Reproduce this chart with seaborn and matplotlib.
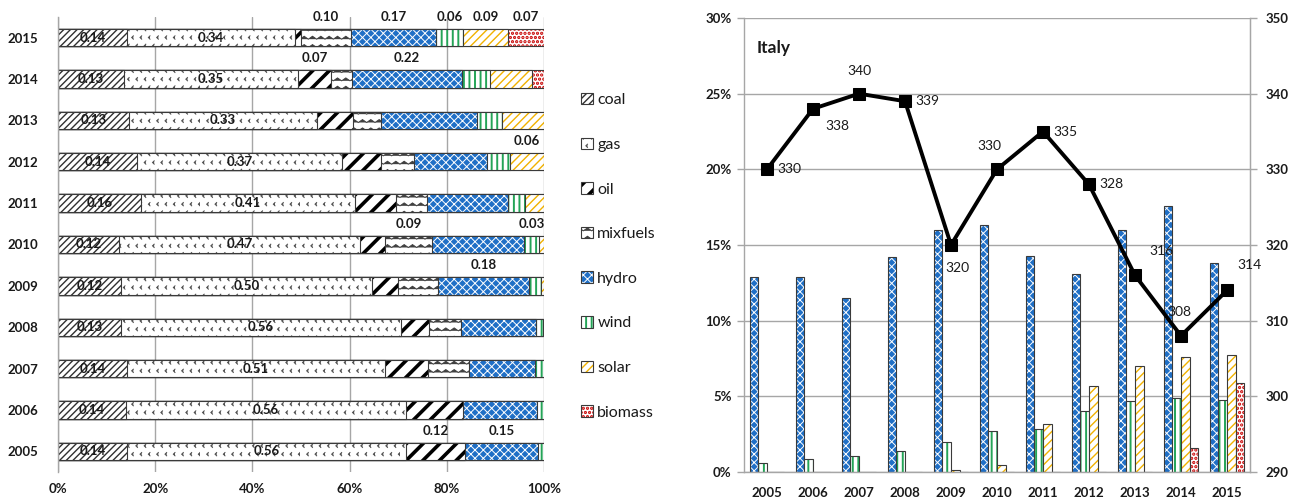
import warnings
import numpy as np
import pandas as pd
import matplotlib
matplotlib.use("Agg")
import matplotlib.pyplot as plt
import matplotlib.colors as mcolors
from matplotlib import hatch as mhatch
from matplotlib.path import Path
from matplotlib.patches import Patch
from matplotlib.ticker import FixedLocator, NullFormatter, FuncFormatter
import seaborn as sns

warnings.filterwarnings("ignore")

# ---------------- data ----------------
years = [2005, 2006, 2007, 2008, 2009, 2010, 2011, 2012, 2013, 2014, 2015]
sources = ["coal", "gas", "oil", "mixfuels", "hydro", "wind", "solar", "biomass"]

# left chart: generation mix (shown as 100% stacked bars)
coal     = [0.138, 0.137, 0.137, 0.127, 0.124, 0.120, 0.159, 0.142, 0.127, 0.131, 0.141]
gas      = [0.561, 0.561, 0.511, 0.562, 0.496, 0.471, 0.411, 0.366, 0.334, 0.348, 0.343]
oil      = [0.117, 0.115, 0.085, 0.057, 0.052, 0.049, 0.080, 0.071, 0.064, 0.066, 0.012]
mixfuels = [0.000, 0.000, 0.083, 0.063, 0.078, 0.092, 0.060, 0.058, 0.051, 0.042, 0.103]
hydro    = [0.147, 0.148, 0.131, 0.151, 0.181, 0.179, 0.155, 0.131, 0.171, 0.218, 0.173]
wind     = [0.012, 0.014, 0.017, 0.014, 0.024, 0.029, 0.032, 0.041, 0.045, 0.056, 0.056]
solar    = [0.000, 0.000, 0.000, 0.002, 0.005, 0.010, 0.037, 0.061, 0.074, 0.084, 0.092]
biomass  = [0.000, 0.000, 0.000, 0.000, 0.000, 0.000, 0.000, 0.000, 0.000, 0.024, 0.073]

# data labels shown on the left chart
inside_labels = ["coal", "gas"]
above_labels = {2015: ["mixfuels", "hydro", "wind", "solar", "biomass"],
                2014: ["oil", "hydro"], 2012: ["solar"],
                2010: ["mixfuels", "wind"], 2009: ["hydro"], 2005: ["oil", "hydro"]}

# right chart: renewable shares (%) and emission factor (right axis)
r_hydro   = [12.9, 12.9, 11.5, 14.2, 16.0, 16.3, 14.3, 13.1, 16.0, 17.55, 13.8]
r_wind    = [0.62, 0.84, 1.09, 1.36, 1.98, 2.70, 2.84, 4.04, 4.69, 4.87, 4.76]
r_solar   = [0.0, 0.0, 0.0, 0.0, 0.13, 0.44, 3.18, 5.66, 7.00, 7.58, 7.71]
r_biomass = [0.0, 0.0, 0.0, 0.0, 0.0, 0.0, 0.0, 0.0, 0.0, 1.58, 5.87]
emission  = [330, 338, 340, 339, 320, 330, 335, 328, 316, 308, 314]
# offsets (pixels) for line labels
em_offsets = [(10, 0, "left"), (12, -17, "left"), (0, 23, "center"), (10, 0, "left"),
              (6, -23, "center"), (-8, 23, "center"), (10, 0, "left"), (10, 0, "left"),
              (14, 24, "left"), (-2, 24, "center"), (10, 25, "left")]

# ---------------- custom hatches ----------------
class ZigZagHatch(mhatch.HatchPatternBase):
    def __init__(self, hatch, density):
        self.n = int(hatch.count("z") * density)
        self.k = self.n
        self.num_vertices = self.n * (2 * self.k + 1) if self.n else 0

    def set_vertices_and_codes(self, vertices, codes):
        n, k = self.n, self.k
        m = 2 * k + 1
        xs = np.linspace(0.0, 1.0, m)
        bump = (np.arange(m) % 2) * (0.35 / n)
        for r in range(n):
            a, b = r * m, (r + 1) * m
            vertices[a:b, 0] = xs
            vertices[a:b, 1] = (r + 0.3) / n + bump
            codes[a] = Path.MOVETO
            codes[a + 1:b] = Path.LINETO


class ChevronHatch(mhatch.HatchPatternBase):
    def __init__(self, hatch, density):
        self.n = int(hatch.count("v") * density)
        self.num_vertices = 3 * self.n * self.n if self.n else 0

    def set_vertices_and_codes(self, vertices, codes):
        n = self.n
        s = 0.2 / n
        i = 0
        for r in range(n):
            for c in range(n):
                x0 = ((c + 0.5 * (r % 2)) % n + 0.3) / n
                y0 = (r + 0.5) / n
                vertices[i] = (x0 + s, y0 + s)
                vertices[i + 1] = (x0, y0)
                vertices[i + 2] = (x0 + s, y0 - s)
                codes[i] = Path.MOVETO
                codes[i + 1] = Path.LINETO
                codes[i + 2] = Path.LINETO
                i += 3


mhatch._hatch_types.append(ZigZagHatch)
mhatch._hatch_types.append(ChevronHatch)

styles = {
    "coal":     dict(face="white",   hatch="/////", hcolor="#303030", hlw=1.0),
    "gas":      dict(face="white",   hatch="vv",    hcolor="#505050", hlw=0.7),
    "oil":      dict(face="white",   hatch="//",    hcolor="black",   hlw=2.6),
    "mixfuels": dict(face="white",   hatch="zz",    hcolor="#404040", hlw=0.7),
    "hydro":    dict(face="#1f6fc6", hatch="xxxx",  hcolor="white",   hlw=0.7),
    "wind":     dict(face="white",   hatch="|||",   hcolor="#24a457", hlw=1.4),
    "solar":    dict(face="white",   hatch="////",  hcolor="#f2b200", hlw=1.0),
    "biomass":  dict(face="white",   hatch="....",  hcolor="#c80000", hlw=1.6),
}
EDGE = "#3a3a3a"


def style_patch(p, name, lw=0.8):
    st = styles[name]
    p.set_facecolor(st["face"])
    p.set_edgecolor(EDGE)
    p.set_linewidth(lw)
    p.set_hatch(st["hatch"])
    if hasattr(p, "set_hatchcolor"):
        p.set_hatchcolor(st["hcolor"])
    p._hatch_color = mcolors.to_rgba(st["hcolor"])
    if hasattr(p, "set_hatch_linewidth"):
        p.set_hatch_linewidth(st["hlw"])
    else:
        p._hatch_linewidth = st["hlw"]


# ---------------- theme ----------------
sns.set_style("white")
plt.rcParams["font.family"] = ["Lato", "DejaVu Sans"]
plt.rcParams["hatch.linewidth"] = 0.9
GRID = "#a6a6a6"
TXT = "#1a1a1a"

fig = plt.figure(figsize=(13, 5), dpi=100)

# ---------------- left chart ----------------
axL = fig.add_axes([58 / 1300, 28 / 500, 486 / 1300, 455 / 500])
series = {"coal": coal, "gas": gas, "oil": oil, "mixfuels": mixfuels,
          "hydro": hydro, "wind": wind, "solar": solar, "biomass": biomass}
df = pd.DataFrame(series)
df["year"] = [str(y) for y in years]
tot = df[sources].sum(axis=1)
share = df[sources].div(tot, axis=0) * 100
cum = share.cumsum(axis=1)
left = cum - share
order = [str(y) for y in years[::-1]]
plotdf = cum.copy()
plotdf["year"] = df["year"]

for name in sources[::-1]:
    sns.barplot(data=plotdf, x=name, y="year", order=order, orient="h",
                width=0.42, color="white", saturation=1, errorbar=None, ax=axL)
    for p in axL.containers[-1]:
        style_patch(p, name)

axL.set_xlim(0, 100)
axL.set_ylim(len(order) - 0.5, -0.5)
axL.set_xlabel("")
axL.set_ylabel("")
axL.xaxis.set_major_locator(FixedLocator([0, 20, 40, 60, 80, 100]))
axL.xaxis.set_major_formatter(FuncFormatter(lambda v, _: f"{v:.0f}%"))
axL.grid(axis="x", color=GRID, linewidth=1.0)
axL.set_axisbelow(True)
for s in ["top", "right", "bottom"]:
    axL.spines[s].set_visible(False)
axL.spines["left"].set_color(GRID)
axL.spines["left"].set_linewidth(1.0)
axL.tick_params(axis="x", length=0, pad=8, labelsize=9.5, labelcolor=TXT)
axL.tick_params(axis="y", which="major", length=0, pad=14, labelsize=9.5, labelcolor=TXT)
axL.yaxis.set_minor_locator(FixedLocator(np.arange(-0.5, len(order), 1.0)))
axL.yaxis.set_minor_formatter(NullFormatter())
axL.tick_params(axis="y", which="minor", length=5, color=GRID, width=1.0, direction="out")
for lab in axL.get_xticklabels() + axL.get_yticklabels():
    lab.set_fontweight("bold")

row_of = {y: order.index(str(y)) for y in years}
for i, y in enumerate(years):
    r = row_of[y]
    for name in inside_labels:
        xc = left.loc[i, name] + share.loc[i, name] / 2
        axL.text(xc, r, f"{series[name][i]:.2f}", ha="center", va="center",
                 fontsize=9.5, fontweight="bold", color=TXT)
    for name in above_labels.get(y, []):
        xc = left.loc[i, name] + share.loc[i, name] / 2
        axL.text(xc, r - 0.5, f"{series[name][i]:.2f}", ha="center", va="center",
                 fontsize=9.5, fontweight="bold", color=TXT)

# ---------------- legend ----------------
handles = [Patch(facecolor="white", edgecolor=EDGE, label=name) for name in sources]
leg = fig.legend(handles=handles, loc="upper left",
                 bbox_to_anchor=(581 / 1300, 1 - 93 / 500),
                 frameon=False, fontsize=11.5, handlelength=0.72, handleheight=0.72,
                 handletextpad=0.3, labelspacing=1.9, borderpad=0, borderaxespad=0,
                 labelcolor=TXT)
for lp, name in zip(leg.get_patches(), sources):
    style_patch(lp, name, lw=0.8)

# ---------------- right chart ----------------
axR = fig.add_axes([744 / 1300, 28 / 500, 506 / 1300, 454 / 500])
ren = ["hydro", "wind", "solar", "biomass"]
rdf = pd.DataFrame({"year": [str(y) for y in years], "hydro": r_hydro, "wind": r_wind,
                    "solar": r_solar, "biomass": r_biomass})
rlong = rdf.melt(id_vars="year", var_name="source", value_name="share")
sns.barplot(data=rlong, x="year", y="share", hue="source", hue_order=ren,
            order=[str(y) for y in years], width=0.75, palette=["white"] * 4,
            saturation=1, errorbar=None, legend=False, ax=axR)
for cont, name in zip(axR.containers, ren):
    for p in cont:
        style_patch(p, name, lw=0.8)
axR.set_ylim(0, 30)
axR.set_xlim(-0.5, len(years) - 0.5)
axR.set_xlabel("")
axR.set_ylabel("")
axR.yaxis.set_major_locator(FixedLocator([0, 5, 10, 15, 20, 25, 30]))
axR.yaxis.set_major_formatter(FuncFormatter(lambda v, _: f"{v:.0f}%"))
axR.grid(axis="y", color=GRID, linewidth=1.0)
axR.set_axisbelow(True)
axR.spines["top"].set_visible(False)
for s in ["left", "right", "bottom"]:
    axR.spines[s].set_color(GRID)
    axR.spines[s].set_linewidth(1.0)
axR.xaxis.set_minor_locator(FixedLocator(np.arange(-0.5, len(years), 1.0)))
axR.xaxis.set_minor_formatter(NullFormatter())
axR.tick_params(axis="x", which="major", length=0, pad=11, labelsize=9.5, labelcolor=TXT)
axR.tick_params(axis="x", which="minor", length=5, color=GRID, width=1.0)
axR.tick_params(axis="y", length=5, color=GRID, width=1.0, pad=4, labelsize=9.5,
                labelcolor=TXT)
for lab in axR.get_xticklabels() + axR.get_yticklabels():
    lab.set_fontweight("bold")
axR.text(0.024, 0.934, "Italy", transform=axR.transAxes, fontsize=12.5,
         fontweight="bold", color=TXT, ha="left", va="center")

ax2 = axR.twinx()
edf = pd.DataFrame({"pos": np.arange(len(years)), "emission": emission})
sns.lineplot(data=edf, x="pos", y="emission", ax=ax2, color="black", linewidth=2.8,
             marker="s", markersize=8.5, markeredgecolor="black")
ax2.set_ylim(290, 350)
ax2.set_xlim(-0.5, len(years) - 0.5)
ax2.set_ylabel("")
ax2.set_xlabel("")
ax2.yaxis.set_major_locator(FixedLocator([290, 300, 310, 320, 330, 340, 350]))
ax2.tick_params(axis="y", length=5, color=GRID, width=1.0, pad=6, labelsize=9.5,
                labelcolor=TXT)
for lab in ax2.get_yticklabels():
    lab.set_fontweight("bold")
for s in ["top", "left", "bottom"]:
    ax2.spines[s].set_visible(False)
ax2.spines["right"].set_color(GRID)
for i, v in enumerate(emission):
    dx, dy, ha = em_offsets[i]
    ax2.annotate(f"{v}", (edf["pos"][i], v), xytext=(dx, dy), textcoords="offset pixels",
                 ha=ha, va="center", fontsize=10, color=TXT)

fig.savefig("out.png", dpi=100)
